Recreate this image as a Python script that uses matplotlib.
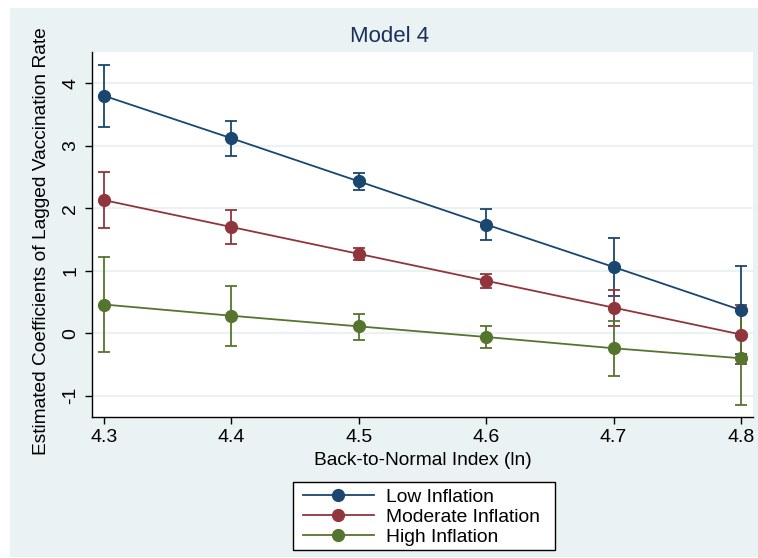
import numpy as np
import matplotlib.pyplot as plt
from matplotlib.patches import Rectangle

plt.rcParams['font.family'] = ['Liberation Sans', 'DejaVu Sans']

# data
bni = [4.3, 4.4, 4.5, 4.6, 4.7, 4.8]
low = [3.80, 3.12, 2.43, 1.74, 1.06, 0.37]
low_lo = [3.30, 2.84, 2.30, 1.50, 0.59, -0.33]
low_hi = [4.30, 3.40, 2.56, 1.99, 1.53, 1.07]
mod = [2.13, 1.70, 1.27, 0.84, 0.41, -0.02]
mod_lo = [1.68, 1.43, 1.18, 0.73, 0.11, -0.49]
mod_hi = [2.58, 1.97, 1.36, 0.95, 0.70, 0.45]
high = [0.46, 0.28, 0.11, -0.06, -0.24, -0.40]
high_lo = [-0.30, -0.20, -0.10, -0.24, -0.69, -1.15]
high_hi = [1.22, 0.76, 0.31, 0.11, 0.19, 0.37]
labels = ["Low Inflation", "Moderate Inflation", "High Inflation"]
colors = ["#1a476f", "#90353b", "#55752f"]

bg = "#eaf2f3"
W, H = 758, 558
fig = plt.figure(figsize=(7.58, 5.58), dpi=100, facecolor="white")
fig.patches.append(Rectangle((10 / W, 1 / H), 748 / W, 549 / H,
                             transform=fig.transFigure, facecolor=bg,
                             edgecolor="none", zorder=-10))

ax = fig.add_axes([92 / W, 1 - 417 / H, 661 / W, 365 / H])
ax.set_zorder(1)
ax.set_facecolor("white")

series = [(low, low_lo, low_hi), (mod, mod_lo, mod_hi), (high, high_lo, high_hi)]
for (y, lo, hi), c in zip(series, colors):
    y = np.array(y)
    err = [y - np.array(lo), np.array(hi) - y]
    ax.errorbar(bni, y, yerr=err, fmt="none", ecolor=c, elinewidth=1.3,
                capsize=4.5, capthick=1.3, zorder=2)
handles = []
for (y, lo, hi), c, lab in zip(series, colors, labels):
    h, = ax.plot(bni, y, color=c, lw=1.3, marker="o", markersize=8.5,
                 markeredgecolor=c, zorder=3, label=lab)
    handles.append(h)

ax.set_xlim(4.2906, 4.8094)
ax.set_ylim(-1.34, 4.5)
ax.set_xticks(bni)
ax.set_xticklabels(["4.3", "4.4", "4.5", "4.6", "4.7", "4.8"])
ax.set_yticks([-1, 0, 1, 2, 3, 4])
ax.set_yticklabels(["-1", "0", "1", "2", "3", "4"], rotation=90, va="center")
ax.grid(axis="y", color=bg, lw=1.5, zorder=1)
ax.set_axisbelow(True)
for s in ["top", "right"]:
    ax.spines[s].set_visible(False)
for s in ["left", "bottom"]:
    ax.spines[s].set_linewidth(1.0)
ax.tick_params(axis="both", length=5, width=1.0, labelsize=14, colors="black", pad=4)

ax.set_xlabel("Back-to-Normal Index (ln)", fontsize=13.8, labelpad=4)
ax.set_ylabel("Estimated Coefficients of Lagged Vaccination Rate", fontsize=13.8)
ax.yaxis.set_label_coords(-0.064, 0.482)
fig.text(390 / W, 1 - 37 / H, "Model 4", ha="center", va="center",
         fontsize=16, color="#1a2f5e")

# legend box drawn separately so its padding matches the original
fig.patches.append(Rectangle((293 / W, 1 - 550 / H), 262 / W, 68 / H,
                             transform=fig.transFigure, facecolor="white",
                             edgecolor="black", lw=1.0, zorder=4))
leg = fig.legend(handles=handles, loc="center", bbox_to_anchor=(421 / W, 1 - 517 / H),
                 frameon=False, fontsize=13.9, handlelength=3.7, labelspacing=0.12,
                 borderpad=0, handletextpad=0.6)
leg.set_zorder(5)

fig.savefig("out.png", dpi=100, facecolor="white")
